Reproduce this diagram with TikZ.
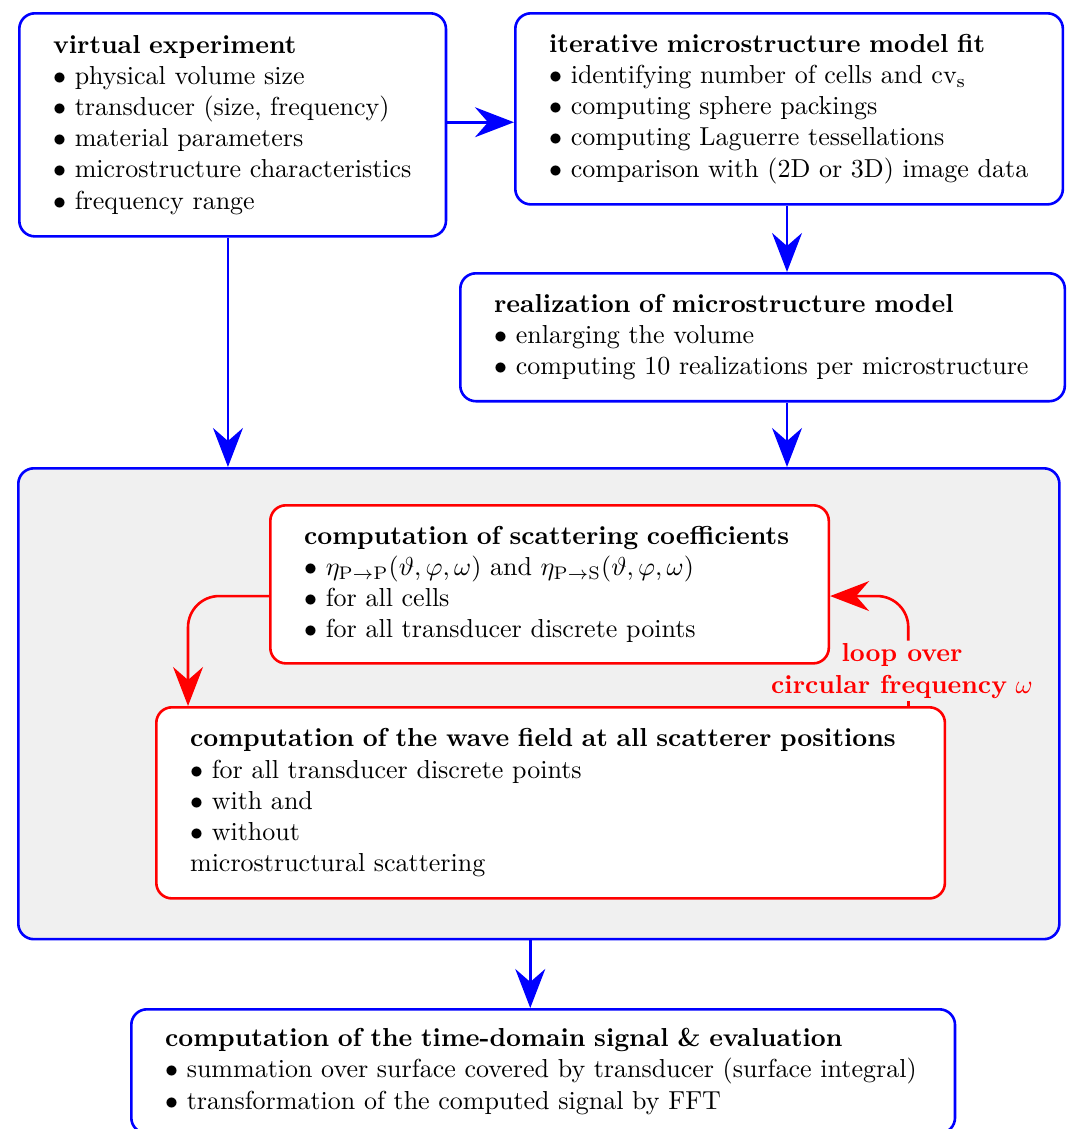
\documentclass[tikz,border=0pt]{standalone}
\usepackage{amsmath,amssymb}
\usetikzlibrary{arrows.meta}

\tikzset{
  blockb/.style={draw=blue, line width=1pt, rounded corners=6pt, fill=white, align=left, anchor=north west, inner xsep=13pt, inner ysep=0pt},
  blockr/.style={blockb, draw=red},
  arr/.style={-{Stealth[length=15pt,width=11.5pt,inset=5pt]}, line width=1pt},
}

\begin{document}
\begin{tikzpicture}[x=0.3846pt,y=-0.3846pt]
    \useasboundingbox (0,0) rectangle (1067,1129);
    \node[blockb, text width=138.1pt, minimum height=85.8pt] (exp) at (18,12) {\textbf{virtual experiment}\\
        $\bullet$ physical volume size\\
        $\bullet$ transducer (size, frequency)\\
        $\bullet$ material parameters\\
        $\bullet$ microstructure characteristics\\
        $\bullet$ frequency range};
    \node[blockb, text width=184.6pt, minimum height=73.5pt] (fit) at (514,12) {\textbf{iterative microstructure model fit}\\
        $\bullet$ identifying number of cells and cv$_\mathrm{s}$\\
        $\bullet$ computing sphere packings\\
        $\bullet$ computing Laguerre tessellations\\
        $\bullet$ comparison with (2D or 3D) image data};
    \node[blockb, text width=206.5pt, minimum height=49.2pt] (real) at (459,272) {\textbf{realization of microstructure model}\\
        $\bullet$ enlarging the volume\\
        $\bullet$ computing 10 realizations per microstructure};
    \node[blockb, fill=black!6, minimum width=400.4pt, minimum height=181.1pt, inner sep=0pt] (sim) at (17,467) {};
    \node[blockr, text width=188.8pt, minimum height=60.8pt] (scat) at (269,504) {\textbf{computation of scattering coefficients}\\
        $\bullet$ $\eta_{\mathrm{P}\to\mathrm{P}}(\vartheta,\varphi,\omega)$ and $\eta_{\mathrm{P}\to\mathrm{S}}(\vartheta,\varphi,\omega)$\\
        $\bullet$ for all cells\\
        $\bullet$ for all transducer discrete points};
    \node[blockr, text width=277.3pt, minimum height=73.5pt] (wave) at (155,706) {\textbf{computation of the wave field at all scatterer positions}\\
        $\bullet$ for all transducer discrete points\\
        $\bullet$ with and\\
        $\bullet$ without\\
        microstructural scattering};
    \node[blockb, text width=290.8pt, minimum height=47.7pt] (sig) at (130,1008) {\textbf{computation of the time-domain signal \& evaluation}\\
        $\bullet$ summation over surface covered by transducer (surface integral)\\
        $\bullet$ transformation of the computed signal by FFT};
    \node[red, align=center, inner sep=1pt] (loop) at (902,671) {\textbf{loop over}\\\textbf{circular frequency} $\omega$};

    \draw[arr, blue] ([yshift=1pt]exp.east) -- ([yshift=1pt]exp.east -| fit.west);
    \draw[arr, blue] ([xshift=-0.8pt]fit.south) -- ([xshift=-0.8pt]fit.south |- real.north);
    \draw[arr, blue] ([xshift=-1.8pt]exp.south) -- ([xshift=-1.8pt]exp.south |- sim.north);
    \draw[arr, blue] ([xshift=-0.8pt]fit.south |- real.south) -- ([xshift=-0.8pt]fit.south |- sim.north);
    \draw[arr, blue] ([xshift=-3.3pt]sim.south) -- ([xshift=-3.3pt]sim.south |- sig.north);

    \draw[arr, red, rounded corners=12pt] ([yshift=-4.5pt]scat.west) -| ([xshift=12.7pt]wave.north west);
    \draw[red, line width=1pt] ([xshift=-14.6pt]wave.north east) -- ([xshift=-14.6pt]wave.north east |- loop.south);
    \draw[arr, red, rounded corners=12pt] ([xshift=-14.6pt]wave.north east |- loop.north) |- ([yshift=-4.5pt]scat.east);
\end{tikzpicture}
\end{document}
